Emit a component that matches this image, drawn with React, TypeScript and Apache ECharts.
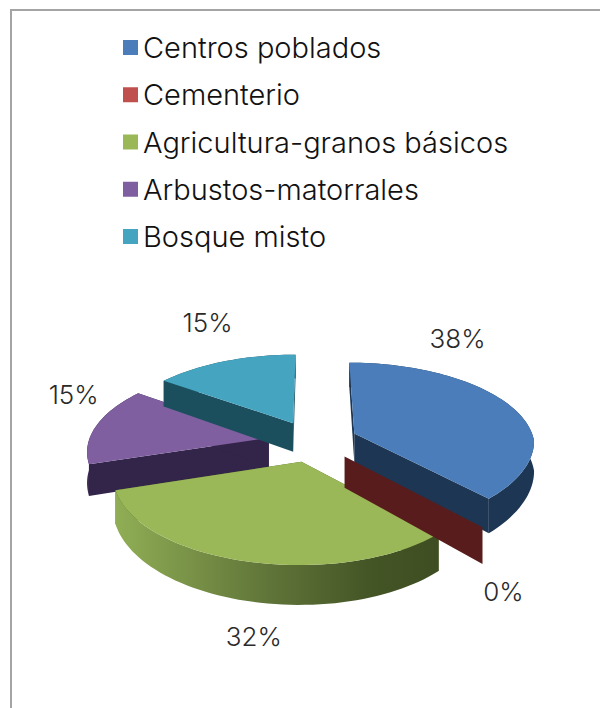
import React, { useEffect, useRef } from "react";
import * as echarts from "echarts";

const categories = ["Centros poblados", "Cementerio", "Agricultura-granos básicos", "Arbustos-matorrales", "Bosque misto"];
const values = [38, 0, 32, 15, 15];
const percentLabels = ["38%", "0%", "32%", "15%", "15%"];

const topColors = ["#4a7db9", "#c0504d", "#9ab857", "#7f5f9f", "#45a5c1"];
const faceColors = ["#1d3653", "#591c1c", "#4c5f2a", "#33244a", "#1c4f5e"];
const drawOrder = [3, 4, 2, 1, 5];
const labelOffsets = [[-52, -67], [21, 64], [8, 75], [-23, -31], [-17, -39]];

const FONT = "Inter, 'Liberation Sans', sans-serif";
const CX = 313, CY = 441, R = 180, EXPLODE = 45, TILT = 0.459, PERSP = 0.139, THICK = 30, SKEW = 0.05;

const total = values.reduce((a, b) => a + b, 0);

function project(X: number, Z: number) {
  const zn = Z / R;
  const p = 1 / (1 + PERSP * zn);
  const squeeze = 1 - SKEW * Math.max(0, X / R) * Math.max(0, -zn);
  return { x: CX + X * p * squeeze, y: CY - Z * TILT * p, t: THICK * Math.pow(p, 1.5) };
}

function sliceShapes(index: number, value: number) {
  const before = values.slice(0, index).reduce((a, b) => a + b, 0);
  const a0 = (before / total) * Math.PI * 2;
  const a1 = a0 + (value / total) * Math.PI * 2;
  const mid = (a0 + a1) / 2;
  const ox = EXPLODE * Math.sin(mid);
  const oz = EXPLODE * Math.cos(mid);
  const apex = project(ox, oz);
  const steps = Math.max(1, Math.ceil((a1 - a0) / (Math.PI / 90)));
  const rim: { x: number; y: number; t: number }[] = [];
  for (let s = 0; s <= steps; s++) {
    const a = a0 + ((a1 - a0) * s) / steps;
    rim.push(project(ox + R * Math.sin(a), oz + R * Math.cos(a)));
  }
  const midRim = project(ox + R * Math.sin(mid), oz + R * Math.cos(mid));
  return { apex, rim, midRim };
}

function quad(a: any, b: any) {
  return [[a.x, a.y], [b.x, b.y], [b.x, b.y + b.t], [a.x, a.y + a.t]];
}

const greenWall = {
  type: "linear", x: 0, y: 0, x2: 1, y2: 0,
  colorStops: [
    { offset: 0, color: "#90ae55" },
    { offset: 0.45, color: "#62773a" },
    { offset: 0.8, color: "#435425" },
    { offset: 1, color: "#3f4e22" },
  ],
};

function renderSlice(index: number) {
  return (_params: any, api: any) => {
    const value = api.value(0);
    const { apex, rim, midRim } = sliceShapes(index, value);
    const children: any[] = [];
    const face = faceColors[index];
    const last = rim[rim.length - 1];
    const first = rim[0];
    if (value > 0) {
      const wall = [
        ...rim.map((q) => [q.x, q.y]),
        ...rim.slice().reverse().map((q) => [q.x, q.y + q.t]),
      ];
      children.push({ type: "polygon", shape: { points: quad(apex, first) }, style: { fill: face } });
      children.push({ type: "polygon", shape: { points: quad(apex, last) }, style: { fill: face } });
      children.push({ type: "polygon", shape: { points: wall }, style: { fill: index === 2 ? greenWall : face } });
      children.push({
        type: "polygon",
        shape: { points: [[apex.x, apex.y], ...rim.map((q) => [q.x, q.y])] },
        style: { fill: topColors[index] },
      });
    } else {
      children.push({ type: "polygon", shape: { points: quad(apex, first) }, style: { fill: face } });
    }
    children.push({
      type: "text",
      style: {
        x: midRim.x + labelOffsets[index][0],
        y: midRim.y + labelOffsets[index][1],
        text: percentLabels[index],
        fill: "#2a2a2a",
        fontFamily: FONT,
        fontWeight: 300,
        fontSize: 26,
        align: "center",
        verticalAlign: "middle",
      },
    });
    return { type: "group", children };
  };
}

export default function App() {
  const ref = useRef<HTMLDivElement>(null);
  useEffect(() => {
    const chart = echarts.init(ref.current!, undefined, { renderer: "svg" });
    chart.setOption({
      animation: false,
      backgroundColor: "#ffffff",
      color: topColors,
      legend: {
        orient: "vertical",
        left: 123,
        top: 33,
        padding: 0,
        itemWidth: 15,
        itemHeight: 15,
        itemGap: 18.25,
        icon: "rect",
        data: categories,
        textStyle: { fontFamily: FONT, fontWeight: 300, fontSize: 29, color: "#111111", lineHeight: 29 },
      },
      graphic: [
        {
          type: "polyline",
          shape: { points: [[11, 708], [11, 10], [600, 10]] },
          style: { stroke: "#a4a4a4", lineWidth: 2, fill: "none" },
        },
      ],
      series: categories.map((name, i) => ({
        type: "custom",
        name,
        coordinateSystem: "none",
        z: drawOrder[i],
        data: [[values[i]]],
        renderItem: renderSlice(i),
      })),
    });
    return () => chart.dispose();
  }, []);
  return <div ref={ref} style={{ position: "absolute", left: 0, top: 0, width: 600, height: 708 }} />;
}
